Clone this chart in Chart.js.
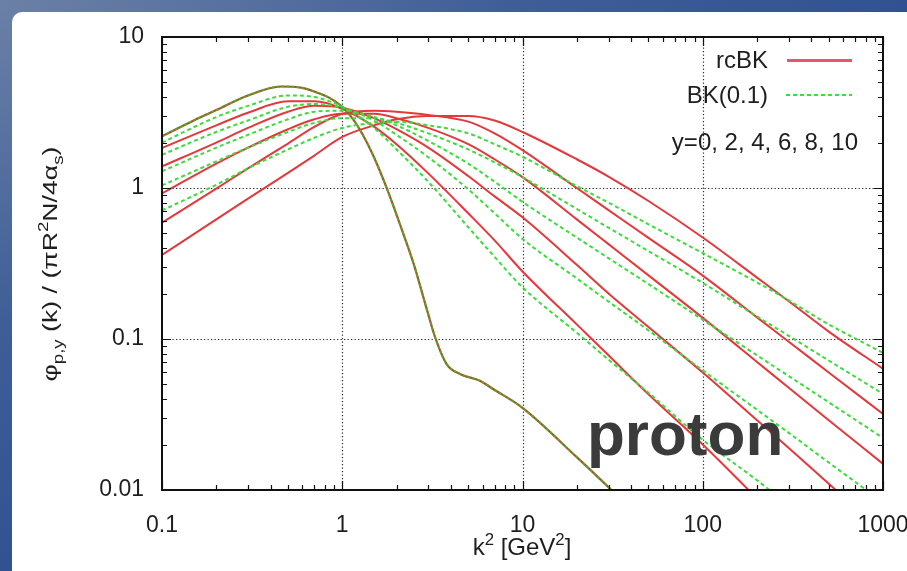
<!DOCTYPE html>
<html><head><meta charset="utf-8">
<script src="https://cdn.jsdelivr.net/npm/chart.js@4.4.1/dist/chart.umd.min.js"></script>
<style>
html,body{margin:0;padding:0;width:907px;height:571px;overflow:hidden;}
body{background: radial-gradient(ellipse at 0% 0%, #6b80a6 0%, #3f5e98 40%, #24478b 100%);}
#panel{position:absolute;left:12px;top:12px;width:930px;height:600px;background:#fff;border-radius:10px;}
#c{position:absolute;left:0;top:0;}
</style></head><body>
<div id="panel"></div>
<canvas id="c" width="907" height="571"></canvas>
<script>
// ---------- data ----------
const rapidities = [0, 2, 4, 6, 8, 10];
const legendLabels = ['rcBK', 'BK(0.1)'];

// y = 0 initial condition (identical for rcBK and BK(0.1))
const k_y0   = [0.1, 0.15, 0.2, 0.3, 0.46, 0.6, 0.7, 0.85, 1, 1.15, 1.3, 1.5, 1.77, 2.1, 2.5, 2.96, 3.3, 3.8, 4.5, 5.8, 6.9, 10, 20, 31.7, 40];
const phi_y0 = [2.2, 2.8, 3.28, 4.1, 4.7, 4.6, 4.35, 3.95, 3.45, 2.85, 2.25, 1.6, 0.99, 0.565, 0.31, 0.154, 0.1, 0.068, 0.0587, 0.0529, 0.0465, 0.035, 0.0165, 0.0098, 0.0075];

// common k^2 grid for the evolved curves
const kGrid = [0.1, 0.2, 0.3, 0.5, 0.7, 1, 1.5, 2, 3, 5, 7, 10, 20, 30, 50, 100, 200, 300, 500, 1000];

const rcBK_y2  = [1.84, 2.6, 3.15, 3.75, 3.75, 3.35, 2.55, 1.95, 1.25, 0.68, 0.45, 0.28, 0.125, 0.078, 0.043, 0.02, 0.0088, 0.0055, 0.003, 0.0014];
const rcBK_y4  = [1.39, 2.0, 2.5, 3.2, 3.5, 3.4, 2.9, 2.45, 1.85, 1.2, 0.88, 0.64, 0.31, 0.2, 0.12, 0.06, 0.029, 0.019, 0.011, 0.0053];
const rcBK_y6  = [0.92, 1.45, 1.85, 2.45, 2.85, 3.1, 3.1, 2.9, 2.5, 1.95, 1.55, 1.18, 0.62, 0.425, 0.264, 0.138, 0.0705, 0.0475, 0.029, 0.0149];
const rcBK_y8  = [0.59, 0.99, 1.35, 1.97, 2.54, 3.1, 3.25, 3.2, 3.05, 2.75, 2.3, 1.78, 1.0, 0.714, 0.467, 0.263, 0.139, 0.096, 0.06, 0.0319];
const rcBK_y10 = [0.36, 0.62, 0.85, 1.26, 1.64, 2.18, 2.6, 2.85, 3.0, 3.0, 2.8, 2.35, 1.55, 1.19, 0.82, 0.47, 0.255, 0.178, 0.112, 0.0635];

const bk_y2  = [2.0, 2.95, 3.5, 4.1, 4.0, 3.45, 2.5, 1.8, 1.1, 0.55, 0.35, 0.22, 0.11, 0.073, 0.044, 0.0215, 0.0116, 0.0079, 0.0047, 0.0023];
const bk_y4  = [1.66, 2.35, 2.8, 3.45, 3.6, 3.4, 2.8, 2.25, 1.6, 0.98, 0.68, 0.46, 0.252, 0.177, 0.114, 0.062, 0.034, 0.0239, 0.0152, 0.0083];
const bk_y6  = [1.29, 1.85, 2.25, 2.85, 3.2, 3.25, 2.95, 2.6, 2.05, 1.45, 1.1, 0.81, 0.47, 0.343, 0.231, 0.134, 0.078, 0.0568, 0.0381, 0.0221];
const bk_y8  = [1.04, 1.5, 1.85, 2.35, 2.7, 2.9, 2.9, 2.7, 2.3, 1.8, 1.48, 1.18, 0.727, 0.546, 0.382, 0.235, 0.141, 0.105, 0.072, 0.0433];
const bk_y10 = [0.71, 1.05, 1.35, 1.8, 2.15, 2.5, 2.7, 2.75, 2.6, 2.3, 1.95, 1.61, 1.03, 0.8, 0.575, 0.37, 0.237, 0.18, 0.125, 0.081];

// axis ticks
const xMajor = [0.1, 1, 10, 100, 1000];
const xTickLabels = ['0.1', '1', '10', '100', '1000'];
const yMajor = [0.01, 0.1, 1, 10];
const yTickLabels = ['0.01', '0.1', '1', '10'];

// ---------- styling ----------
const RED = '#e2393d';
const GREEN = '#3bdc3b';
const FONT = '"Liberation Sans", Arial, Helvetica, sans-serif';

function pts(k, v) { return k.map((x, i) => ({ x: x, y: v[i] })); }
function minorTicks(majors) {
  const out = [];
  majors.forEach((m, i) => {
    out.push(m);
    if (i < majors.length - 1) for (let j = 2; j <= 9; j++) out.push(m * j);
  });
  return out;
}
const xTicks = minorTicks(xMajor);
const yTicks = minorTicks(yMajor);
function majorLabel(v, majors, labels) {
  const i = majors.findIndex(m => Math.abs(m - v) / m < 1e-6);
  return i >= 0 ? labels[i] : '';
}

const bkSets = [bk_y10, bk_y8, bk_y6, bk_y4, bk_y2];
const rcSets = [rcBK_y10, rcBK_y8, rcBK_y6, rcBK_y4, rcBK_y2];
const datasets = [];
// BK(0.1) dashed first so they are painted on top
datasets.push({ label: legendLabels[1] + ' y=0', data: pts(k_y0, phi_y0), borderColor: 'rgba(70,190,40,0.75)', borderWidth: 2, borderDash: [3, 2] });
bkSets.forEach((s, i) => datasets.push({ label: legendLabels[1] + ' y=' + rapidities[5 - i], data: pts(kGrid, s), borderColor: GREEN, borderWidth: 2, borderDash: [4, 3] }));
datasets.push({ label: legendLabels[0] + ' y=0', data: pts(k_y0, phi_y0), borderColor: '#a8502a', borderWidth: 2.2 });
rcSets.forEach((s, i) => datasets.push({ label: legendLabels[0] + ' y=' + rapidities[5 - i], data: pts(kGrid, s), borderColor: RED, borderWidth: 2 }));
datasets.forEach(d => { d.pointRadius = 0; d.fill = false; d.cubicInterpolationMode = 'monotone'; });

// ---------- helpers for rich text ----------
function drawRich(ctx, parts, size, align) {
  let w = 0;
  parts.forEach(p => { ctx.font = (p.s ? size * 0.7 : size) + 'px ' + FONT; w += ctx.measureText(p.t).width; });
  let x = align === 'center' ? -w / 2 : 0;
  parts.forEach(p => {
    const fs = p.s ? size * 0.7 : size;
    ctx.font = fs + 'px ' + FONT;
    const dy = p.s === 'sub' ? size * 0.28 : (p.s === 'sup' ? -size * 0.42 : 0);
    ctx.fillText(p.t, x, dy);
    x += ctx.measureText(p.t).width;
  });
  return w;
}

const framePlugin = {
  id: 'framePlugin',
  beforeDatasetsDraw(chart) {
    const { ctx, chartArea: a, scales: { x, y } } = chart;
    ctx.save();
    ctx.strokeStyle = '#2a2a2a';
    ctx.lineWidth = 1.2;
    ctx.setLineDash([1.3, 2.2]);
    xMajor.forEach(v => {
      if (v > x.min * 1.001 && v < x.max * 0.999) {
        const p = Math.round(x.getPixelForValue(v)) + 0.5;
        ctx.beginPath(); ctx.moveTo(p, a.top); ctx.lineTo(p, a.bottom); ctx.stroke();
      }
    });
    yMajor.forEach(v => {
      if (v > y.min * 1.001 && v < y.max * 0.999) {
        const p = Math.round(y.getPixelForValue(v)) + 0.5;
        ctx.beginPath(); ctx.moveTo(a.left, p); ctx.lineTo(a.right, p); ctx.stroke();
      }
    });
    ctx.restore();
  },
  afterDatasetsDraw(chart) {
    const { ctx, chartArea: a, scales: { x, y } } = chart;
    ctx.save();
    ctx.strokeStyle = '#111';
    ctx.lineWidth = 1.2;
    x.ticks.forEach(t => {
      const major = majorLabel(t.value, xMajor, xTickLabels) !== '';
      const L = major ? 9 : 5;
      const p = Math.round(x.getPixelForValue(t.value)) + 0.5;
      ctx.beginPath();
      ctx.moveTo(p, a.bottom); ctx.lineTo(p, a.bottom - L);
      ctx.moveTo(p, a.top); ctx.lineTo(p, a.top + L);
      ctx.stroke();
    });
    y.ticks.forEach(t => {
      const major = majorLabel(t.value, yMajor, yTickLabels) !== '';
      const L = major ? 9 : 5;
      const p = Math.round(y.getPixelForValue(t.value)) + 0.5;
      ctx.beginPath();
      ctx.moveTo(a.left, p); ctx.lineTo(a.left + L, p);
      ctx.moveTo(a.right, p); ctx.lineTo(a.right - L, p);
      ctx.stroke();
    });
    ctx.lineWidth = 2;
    ctx.strokeRect(a.left, a.top, a.right - a.left, a.bottom - a.top);
    ctx.restore();
  },
  afterDraw(chart) {
    const { ctx } = chart;
    ctx.save();
    ctx.fillStyle = '#1e1e1e';
    // key
    ctx.font = '24px ' + FONT;
    ctx.textAlign = 'right';
    ctx.textBaseline = 'alphabetic';
    ctx.fillText(legendLabels[0], 768, 68);
    ctx.fillText(legendLabels[1], 768, 103);
    ctx.strokeStyle = '#ec5662'; ctx.lineWidth = 3;
    ctx.beginPath(); ctx.moveTo(787, 60.5); ctx.lineTo(852, 60.5); ctx.stroke();
    ctx.strokeStyle = GREEN; ctx.lineWidth = 2; ctx.setLineDash([4, 3]);
    ctx.beginPath(); ctx.moveTo(786, 95); ctx.lineTo(852, 95); ctx.stroke();
    ctx.setLineDash([]);
    ctx.fillText('y=' + rapidities.join(', '), 858, 150);
    // proton label
    ctx.textAlign = 'left';
    ctx.fillStyle = '#3b3b3b';
    ctx.font = 'bold 62px ' + FONT;
    ctx.fillText('proton', 587, 455);
    // x title
    ctx.fillStyle = '#1e1e1e';
    ctx.save();
    ctx.translate(522, 555);
    drawRich(ctx, [{ t: 'k' }, { t: '2', s: 'sup' }, { t: ' [GeV' }, { t: '2', s: 'sup' }, { t: ']' }], 24, 'center');
    ctx.restore();
    // y title
    ctx.save();
    ctx.translate(57, 264);
    ctx.rotate(-Math.PI / 2);
    ctx.scale(1.27, 1);
    drawRich(ctx, [{ t: 'φ' }, { t: 'p,y', s: 'sub' }, { t: ' (k) / (πR' }, { t: '2', s: 'sup' }, { t: 'N/4α' }, { t: 's', s: 'sub' }, { t: ')' }], 21, 'center');
    ctx.restore();
    ctx.restore();
  }
};

new Chart(document.getElementById('c'), {
  type: 'line',
  data: { datasets: datasets },
  options: {
    responsive: false,
    animation: false,
    devicePixelRatio: 1,
    layout: { padding: { left: 0, top: 37, right: 24, bottom: 0 } },
    plugins: { legend: { display: false }, tooltip: { enabled: false } },
    elements: { line: { tension: 0 } },
    scales: {
      x: {
        type: 'logarithmic', min: 0.1, max: 1000, position: 'bottom',
        grid: { display: false, drawTicks: false },
        border: { display: false },
        afterBuildTicks: s => { s.ticks = xTicks.map(v => ({ value: v })); },
        afterFit: s => { s.height = 81; s.paddingLeft = 0; s.paddingRight = 0; },
        ticks: {
          autoSkip: false, maxRotation: 0, minRotation: 0, padding: 22, color: '#1e1e1e',
          font: { family: FONT, size: 23 },
          callback: v => majorLabel(v, xMajor, xTickLabels)
        }
      },
      y: {
        type: 'logarithmic', min: 0.01, max: 10, position: 'left',
        grid: { display: false, drawTicks: false },
        border: { display: false },
        afterBuildTicks: s => { s.ticks = yTicks.map(v => ({ value: v })); },
        afterFit: s => { s.width = 162; s.paddingTop = 0; s.paddingBottom = 0; },
        ticks: {
          autoSkip: false, padding: 18, color: '#1e1e1e',
          font: { family: FONT, size: 23 },
          callback: v => majorLabel(v, yMajor, yTickLabels)
        }
      }
    }
  },
  plugins: [framePlugin]
});
</script></body></html>
